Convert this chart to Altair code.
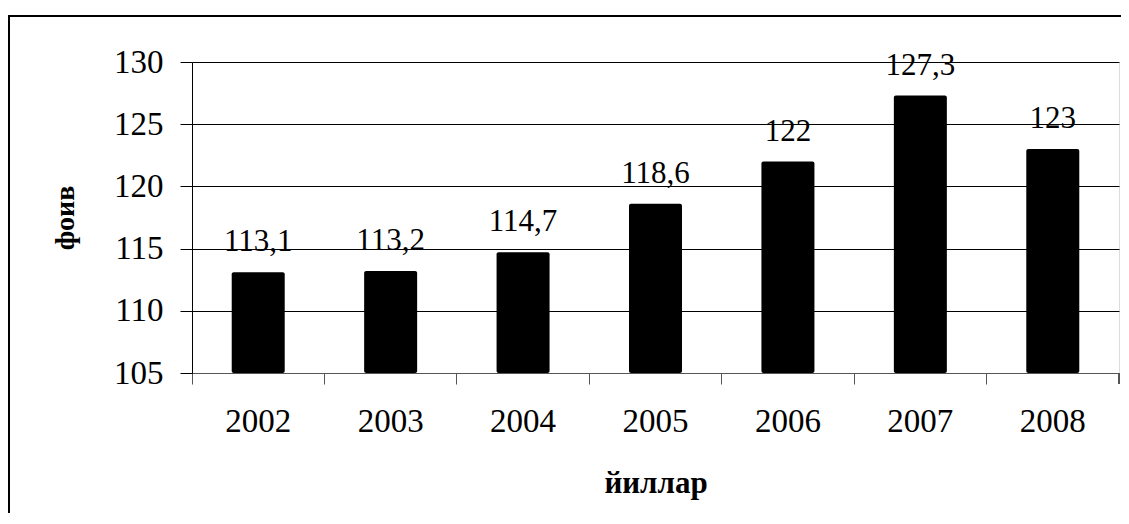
import altair as alt
import pandas as pd

years = ["2002", "2003", "2004", "2005", "2006", "2007", "2008"]
values = [113.1, 113.2, 114.7, 118.6, 122.0, 127.3, 123.0]
labels = ["113,1", "113,2", "114,7", "118,6", "122", "127,3", "123"]
y_ticks = [105, 110, 115, 120, 125, 130]

df = pd.DataFrame({"year": years, "value": values, "label": labels})

W, H = 927, 311
FONT = "Liberation Serif"

xscale = alt.Scale(paddingInner=0, paddingOuter=0)
yscale = alt.Scale(domain=[105, 130], zero=False, nice=False)

base = alt.Chart(df)

bars = base.mark_bar(size=53, color="black", cornerRadius=2).encode(
    x=alt.X("year:N", scale=xscale, sort=years,
            axis=alt.Axis(title="йиллар", labelAngle=0, bandPosition=0,
                          ticks=True, tickSize=11, tickColor="#555",
                          domainColor="#555", labelPadding=21,
                          labelFontSize=33, labelFont=FONT, labelColor="black",
                          titleFont=FONT, titleFontSize=31, titleFontWeight="bold",
                          titleColor="black", titleY=119, titleBaseline="alphabetic",
                          grid=False)),
    y=alt.Y("value:Q", scale=yscale,
            axis=alt.Axis(title="фоив", values=y_ticks, tickSize=12, tickColor="black",
                          domainColor="black", labelPadding=17, grid=True,
                          gridColor="black", gridWidth=1, gridOpacity=1,
                          labelFontSize=33, labelFont=FONT, labelColor="black",
                          titleFont=FONT, titleFontSize=28, titleFontWeight="bold",
                          titleColor="black", titleX=-127, titleY=H / 2,
                          titleBaseline="middle", titleAlign="center", titleAngle=-90)),
    y2=alt.datum(105),
)

text = base.mark_text(font=FONT, fontSize=31, color="black", baseline="alphabetic",
                      dy=-21).encode(
    x=alt.X("year:N", scale=xscale, sort=years),
    y=alt.Y("value:Q", scale=yscale),
    text="label:N",
)

end_tick = base.mark_rule(color="#555").encode(
    x=alt.value(W), y=alt.value(H), y2=alt.value(H + 11)
)

frame = base.mark_rect(fill=None, stroke="black", strokeWidth=2).encode(
    x=alt.value(-183), x2=alt.value(W + 40), y=alt.value(-46), y2=alt.value(H + 200)
)

chart = alt.layer(bars, text, end_tick, frame).properties(
    width=W, height=H,
    autosize=alt.AutoSizeParams(type="none"),
    padding={"left": 184, "top": 54, "right": 2, "bottom": 140},
).configure_view(stroke=None).configure(background="white", font=FONT)

chart.save("out.html", embed_options={"renderer": "svg", "actions": False})
